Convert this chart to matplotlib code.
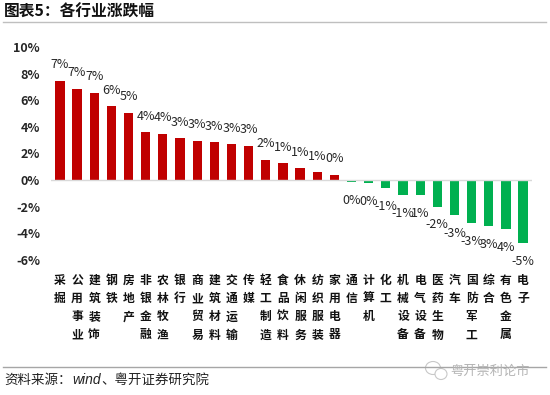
import matplotlib
matplotlib.use("Agg")
import matplotlib.pyplot as plt
from matplotlib.lines import Line2D
from matplotlib.patches import Ellipse

plt.rcParams["font.family"] = ["Noto Sans CJK SC", "DejaVu Sans"]

# Industry names, read left to right
industries = ["采掘", "公用事业", "建筑装饰", "钢铁", "房地产", "非银金融", "农林牧渔",
              "银行", "商业贸易", "建筑材料", "交通运输", "传媒", "轻工制造", "食品饮料",
              "休闲服务", "纺织服装", "家用电器", "通信", "计算机", "化工", "机械设备",
              "电气设备", "医药生物", "汽车", "国防军工", "综合", "有色金属", "电子"]
changes = [7.47, 6.87, 6.57, 5.54, 5.05, 3.58, 3.48, 3.13, 2.95, 2.83, 2.68, 2.57, 1.52, 1.28,
           0.90, 0.60, 0.40, -0.15, -0.25, -0.60, -1.13, -1.15, -2.00, -2.65, -3.25, -3.45,
           -3.70, -4.76]
# Labels as printed; some minus signs are hidden in the source picture
value_labels = ["7%", "7%", "7%", "6%", "5%", "4%", "4%", "3%", "3%", "3%", "3%", "3%", "2%", "1%",
                "1%", "1%", "0%", "0%", "0%", "-1%", "-1%", "1%", "-2%", "-3%", "-3%", "3%",
                "4%", "-5%"]
y_ticks = [-6, -4, -2, 0, 2, 4, 6, 8, 10]

W, H = 550, 395
fig = plt.figure(figsize=(W / 100, H / 100), dpi=100, facecolor="white")
ax = fig.add_axes([51 / W, 1 - 260 / H, (532 - 51) / W, (260 - 47) / H])

xs = list(range(len(changes)))
colors = ["#C00000" if v > 0 else "#00B050" for v in changes]
ax.bar(xs, changes, width=0.54, color=colors)
ax.axhline(0, color="#D9D9D9", lw=1, zorder=1)

for x, v, lab in zip(xs, changes, value_labels):
    off = 11.5 if v > 0 else -13
    ax.annotate(lab, (x, v), xytext=(0, off), textcoords="offset points",
                ha="center", va="center", fontsize=9, color="#262626")

ax.set_xlim(-0.52, 27.52)
ax.set_ylim(-6, 10)
ax.set_yticks(y_ticks)
ax.set_yticklabels([f"{t}%" for t in y_ticks], fontsize=9, fontweight="bold", color="#262626")
ax.set_xticks(xs)
ax.set_xticklabels(["\n".join(n) for n in industries], fontsize=8.5, fontweight="bold",
                   linespacing=1.52, va="top", color="#111111")
ax.tick_params(axis="both", length=0)
ax.tick_params(axis="y", pad=8)
ax.tick_params(axis="x", pad=10)
for s in ax.spines.values():
    s.set_visible(False)

# Title, rules and source line
fig.text(4 / W, 1 - 12 / H, "图表5\uff1a各行业涨跌幅", fontsize=11.3, fontweight="bold",
         ha="left", va="center", color="#111111")
fig.add_artist(Line2D([3 / W, 546 / W], [1 - 22 / H] * 2, color="#BFBFBF", lw=1))
fig.add_artist(Line2D([3 / W, 546 / W], [1 - 367 / H] * 2, color="#A6A6A6", lw=1))
fig.text(4 / W, 1 - 380 / H, "资料来源\uff1a", fontsize=9.7, ha="left", va="center", color="#222222")
fig.text(72 / W, 1 - 380 / H, "wind", fontsize=10, style="italic", family="Liberation Sans",
         ha="left", va="center", color="#222222")
fig.text(101 / W, 1 - 380 / H, "、粤开证券研究院", fontsize=9.7, ha="left", va="center", color="#222222")

# Watermark over the lower rule
for cx, cy, w, h in [(433, 368, 15, 13), (441, 374, 12, 11)]:
    fig.add_artist(Ellipse((cx / W, 1 - cy / H), w / W, h / H, facecolor="white",
                           edgecolor="#C8C8C8", lw=0.8))
fig.text(450 / W, 1 - 371 / H, "粤开崇利论市", fontsize=9.5, ha="left", va="center", color="#B4B4B4")

fig.savefig("out.png", dpi=100)
